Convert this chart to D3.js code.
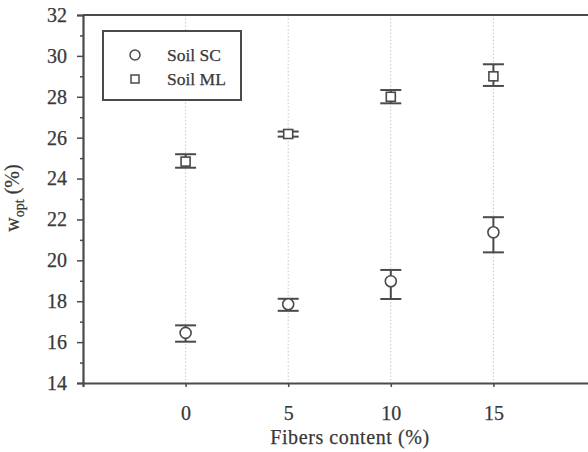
<!DOCTYPE html>
<html><head><meta charset="utf-8">
<script src="https://cdn.jsdelivr.net/npm/d3@7"></script>
<style>html,body{margin:0;padding:0;background:#fff;} svg{display:block;} svg text{font-family:"Liberation Serif","DejaVu Serif","Times New Roman",serif;}</style>
</head><body>
<script>
const fibers = [0, 5, 10, 15];
const scMean = [16.45, 17.85, 18.98, 21.37];
const scLow  = [16.02, 17.53, 18.11, 20.39];
const scHigh = [16.82, 18.12, 19.53, 22.11];
const mlMean = [24.83, 26.18, 28.0, 29.0];
const mlLow  = [24.53, 26.05, 27.68, 28.53];
const mlHigh = [25.19, 26.3, 28.33, 29.59];
const yTicks = [14, 16, 18, 20, 22, 24, 26, 28, 30, 32];
const yMinor = [15, 17, 19, 21, 23, 25, 27, 29, 31];
const seriesNames = ["Soil SC", "Soil ML"];

const W = 588, H = 452;
const svg = d3.select("body").append("svg").attr("width", W).attr("height", H);
const x = d3.scaleLinear().domain([-5, 20]).range([83, 596]);
const y = d3.scaleLinear().domain([14, 32]).range([383, 15]);
const axisColor = "#4a4a4a";
const textColor = "#383838";
const heavy = sel => sel.attr("stroke", textColor).attr("stroke-width", 0.25);

// gridlines
svg.append("g").selectAll("line").data(fibers).join("line")
  .attr("x1", d => x(d)).attr("x2", d => x(d))
  .attr("y1", y(32)).attr("y2", y(14))
  .attr("stroke", "#c8c8c8").attr("stroke-width", 1).attr("stroke-dasharray", "1.5,2");

// top line
svg.append("line").attr("x1", x(-5)).attr("x2", x(20)).attr("y1", y(32)).attr("y2", y(32))
  .attr("stroke", axisColor).attr("stroke-width", 2.2);

// y axis
const yAxis = svg.append("g").attr("transform", `translate(${x(-5)},0)`)
  .call(d3.axisLeft(y).tickValues(yTicks).tickSize(6).tickPadding(10));
yAxis.attr("font-family", null);
yAxis.selectAll(".domain").attr("stroke", axisColor).attr("stroke-width", 2.2);
yAxis.selectAll(".tick line").attr("stroke", axisColor).attr("stroke-width", 1.5);
yAxis.selectAll(".tick text").style("font-size", "20px").attr("fill", textColor).call(heavy);
const yAxisMinor = svg.append("g").attr("transform", `translate(${x(-5)},0)`)
  .call(d3.axisLeft(y).tickValues(yMinor).tickSize(3).tickFormat(""));
yAxisMinor.select(".domain").remove();
yAxisMinor.selectAll(".tick line").attr("stroke", axisColor).attr("stroke-width", 1.5);

// x axis
const xAxis = svg.append("g").attr("transform", `translate(0,${y(14)})`)
  .call(d3.axisBottom(x).tickValues(fibers).tickSize(4).tickPadding(19));
xAxis.attr("font-family", null);
xAxis.selectAll(".domain").attr("stroke", axisColor).attr("stroke-width", 2.2);
xAxis.selectAll(".tick line").attr("stroke", axisColor).attr("stroke-width", 1.5);
xAxis.selectAll(".tick text").style("font-size", "20px").attr("fill", textColor).call(heavy);

// axis titles
svg.append("text").attr("x", 350).attr("y", 444).attr("text-anchor", "middle")
  .style("font-size", "20px").attr("fill", textColor).attr("letter-spacing", 0.6).call(heavy)
  .text("Fibers content (%)");
const yl = svg.append("text").attr("transform", "translate(19,198) rotate(-90)").attr("text-anchor", "middle")
  .style("font-size", "20px").attr("fill", textColor).call(heavy);
yl.append("tspan").text("w");
yl.append("tspan").style("font-size", "14px").attr("dy", 5).text("opt");
yl.append("tspan").attr("dy", -5).text(" (%)");

// error bars & markers
function drawSeries(mean, lo, hi, shape) {
  const g = svg.append("g");
  const ink = "#4a4a4a";
  g.selectAll(".v").data(fibers).join("line")
    .attr("x1", d => x(d)).attr("x2", d => x(d))
    .attr("y1", (d, i) => y(lo[i])).attr("y2", (d, i) => y(hi[i]))
    .attr("stroke", ink).attr("stroke-width", 2);
  [lo, hi].forEach(arr => {
    g.selectAll(null).data(fibers).join("line")
      .attr("x1", d => x(d) - 10.5).attr("x2", d => x(d) + 10.5)
      .attr("y1", (d, i) => y(arr[i])).attr("y2", (d, i) => y(arr[i]))
      .attr("stroke", ink).attr("stroke-width", 2);
  });
  if (shape === "circle") {
    g.selectAll("circle").data(fibers).join("circle")
      .attr("cx", d => x(d)).attr("cy", (d, i) => y(mean[i])).attr("r", 5.5)
      .attr("fill", "#fff").attr("stroke", ink).attr("stroke-width", 1.6);
  } else {
    g.selectAll("rect").data(fibers).join("rect")
      .attr("x", d => x(d) - 4.5).attr("y", (d, i) => y(mean[i]) - 4.5)
      .attr("width", 9).attr("height", 9)
      .attr("fill", "#fff").attr("stroke", ink).attr("stroke-width", 1.6);
  }
}
drawSeries(scMean, scLow, scHigh, "circle");
drawSeries(mlMean, mlLow, mlHigh, "square");

// legend
const lg = svg.append("g");
lg.append("rect").attr("x", 103).attr("y", 31).attr("width", 138).attr("height", 69)
  .attr("fill", "#fff").attr("stroke", axisColor).attr("stroke-width", 2);
lg.append("circle").attr("cx", 135).attr("cy", 55).attr("r", 5)
  .attr("fill", "#fff").attr("stroke", "#4a4a4a").attr("stroke-width", 1.5);
lg.append("rect").attr("x", 131).attr("y", 75).attr("width", 8).attr("height", 8)
  .attr("fill", "#fff").attr("stroke", "#4a4a4a").attr("stroke-width", 1.5);
lg.selectAll("text").data(seriesNames).join("text")
  .attr("x", 167).attr("y", (d, i) => 61 + i * 24)
  .style("font-size", "17.5px").attr("fill", textColor).call(heavy)
  .text(d => d);
</script>
</body></html>
